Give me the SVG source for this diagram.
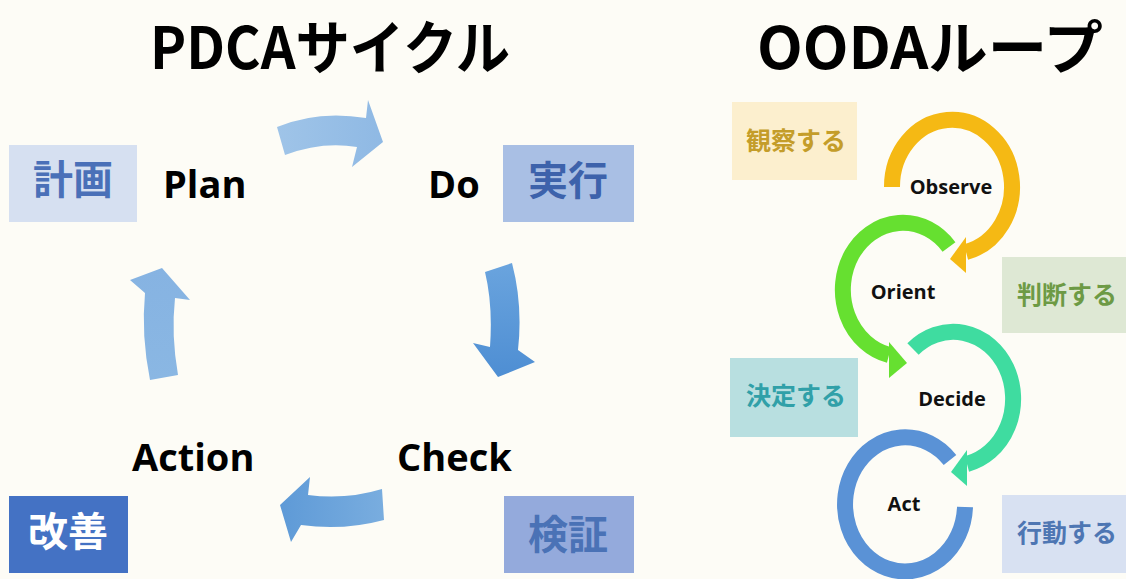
<svg xmlns="http://www.w3.org/2000/svg" width="1126" height="579" viewBox="0 0 1126 579">
<defs>
<style>
.title{font-family:"Noto Sans CJK JP","Noto Sans",sans-serif;font-weight:700;font-size:58px;fill:#000}
.en{font-family:"Open Sans","Liberation Sans",sans-serif;font-weight:700;font-size:38px;fill:#000}
.jp{font-family:"Noto Sans CJK JP",sans-serif;font-weight:700;font-size:40px;text-anchor:middle}
.oo{font-family:"Open Sans","Liberation Sans",sans-serif;font-weight:700;font-size:20px;fill:#111;text-anchor:middle}
.lb{font-family:"Noto Sans CJK JP",sans-serif;font-weight:700;font-size:25px;text-anchor:middle}
.ring{fill:none;stroke-width:16;stroke-linecap:butt}
</style>
<linearGradient id="gTop" x1="0" y1="0" x2="1" y2="0"><stop offset="0" stop-color="#9fc4e8"/><stop offset="1" stop-color="#8fb9e4"/></linearGradient>
<linearGradient id="gRight" x1="0" y1="0" x2="0" y2="1"><stop offset="0" stop-color="#6aa4de"/><stop offset="1" stop-color="#4e8ed3"/></linearGradient>
<linearGradient id="gBot" x1="1" y1="0" x2="0" y2="0"><stop offset="0" stop-color="#79addf"/><stop offset="1" stop-color="#5e9ad7"/></linearGradient>
<linearGradient id="gLeft" x1="0" y1="1" x2="0" y2="0"><stop offset="0" stop-color="#8ab7e3"/><stop offset="1" stop-color="#86b3e2"/></linearGradient>
</defs>
<rect width="1126" height="579" fill="#fdfcf6"/>

<g id="titles">
<text class="title" x="150" y="69" textLength="360" lengthAdjust="spacingAndGlyphs">PDCAサイクル</text>
<text class="title" x="757" y="69" textLength="346" lengthAdjust="spacingAndGlyphs">OODAループ</text>
</g>

<g id="connectors">
<path d="M277,127 Q318,110 366,118 L368,100 L383,142 L352,167 L357,147 Q322,141 285,155 Z" fill="url(#gTop)"/>
<path d="M485,272 L512,263 Q523,305 518,350 L535,362 L498,377 L473,343 L490,347 Q493,305 485,272 Z" fill="url(#gRight)"/>
<path d="M382,489 Q346,500 308,495 L310,477 L280,505 L291,542 L301,525 Q343,531 384,520 Z" fill="url(#gBot)"/>
<path d="M150,380 Q141,335 145,293 L130,280 L162,268 L190,300 L175,298 Q171,335 178,375 Z" fill="url(#gLeft)"/>

<path class="ring" d="M892,187 A60,67 0 1 1 966,252" stroke="#f5b914"/>
<polygon points="966,237 966,273 950,259" fill="#f5b914"/>
<path class="ring" d="M949,247 A60,67 0 1 0 889,355" stroke="#66e030"/>
<polygon points="889,342 889,378 907,363" fill="#66e030"/>
<path class="ring" d="M913,349 A60,67 0 1 1 967,464" stroke="#3fdca0"/>
<polygon points="967,450 967,486 951,472" fill="#3fdca0"/>
<path class="ring" d="M950,460 A60,67 0 1 0 965,507" stroke="#5a92d6"/>
</g>

<g id="plan">
<rect x="9" y="145" width="128" height="77" fill="#d6e0f1"/>
<text class="jp" x="73" y="194" fill="#4a70b8">計画</text>
<text class="en" x="163" y="198">Plan</text>
</g>
<g id="do">
<text class="en" x="428" y="198">Do</text>
<rect x="503" y="145" width="131" height="77" fill="#a9bfe4"/>
<text class="jp" x="568" y="195" fill="#3d62ab">実行</text>
</g>
<g id="check">
<text class="en" x="397" y="471">Check</text>
<rect x="504" y="496" width="130" height="77" fill="#94aadc"/>
<text class="jp" x="568" y="549" fill="#4a72b6">検証</text>
</g>
<g id="action">
<text class="en" x="132" y="471">Action</text>
<rect x="9" y="496" width="119" height="77" fill="#4472c4"/>
<text class="jp" x="68" y="546" fill="#ffffff">改善</text>
</g>

<g id="observe">
<rect x="732" y="102" width="125" height="78" fill="#fcefce"/>
<text class="lb" x="796" y="150" fill="#c49d2a">観察する</text>
<text class="oo" x="951" y="194">Observe</text>
</g>
<g id="orient">
<rect x="1002" y="257" width="124" height="76" fill="#dee8d4"/>
<text class="lb" x="1067" y="304" fill="#6d9a45">判断する</text>
<text class="oo" x="903" y="299">Orient</text>
</g>
<g id="decide">
<rect x="730" y="358" width="128" height="79" fill="#b8dfe0"/>
<text class="lb" x="796" y="405" fill="#30a0a8">決定する</text>
<text class="oo" x="952" y="406">Decide</text>
</g>
<g id="act">
<rect x="1002" y="495" width="124" height="78" fill="#d8e1f2"/>
<text class="lb" x="1067" y="542" fill="#4e76b3">行動する</text>
<text class="oo" x="904" y="511">Act</text>
</g>
</svg>
